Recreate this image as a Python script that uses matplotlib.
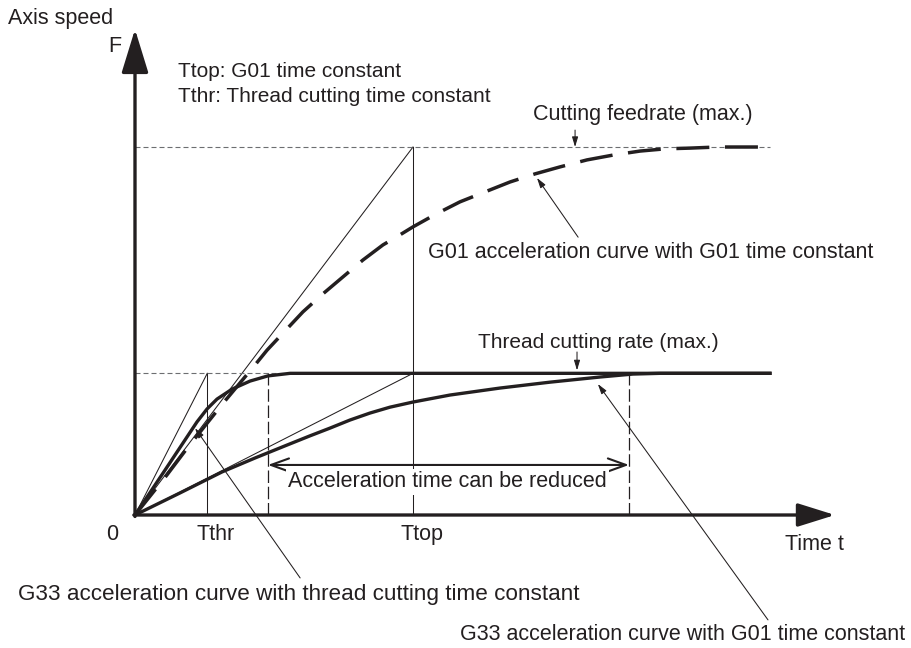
import matplotlib
matplotlib.use('Agg')
import matplotlib.pyplot as plt

plt.rcParams['font.family'] = ['Liberation Sans', 'DejaVu Sans']

INK = '#231f20'

# time / speed normalised so that Ttop = 1 and F (max cutting feedrate) = 1
T_THR = 0.26
T_TOP = 1.0
F_MAX = 1.0
R_MAX = 0.385            # thread cutting rate (max.)
T_ACC_THR = 0.478        # end of G33 accel with thread cutting time constant
T_ACC_G01 = 1.777        # end of G33 accel with G01 time constant
T_END = 2.284
T_AXIS = 2.518
V_AXIS = 1.32

# G01 acceleration curve with G01 time constant (dashed)
g01_t = [0, 0.115, 0.191, 0.317, 0.432, 0.475, 0.604, 0.676, 0.748, 0.820,
         0.892, 0.946, 1.0, 1.083, 1.169, 1.259, 1.349, 1.439, 1.529, 1.626,
         1.719, 1.817, 1.906, 1.996, 2.094, 2.284]
g01_v = [0, 0.109, 0.185, 0.304, 0.408, 0.448, 0.552, 0.601, 0.647, 0.693,
         0.734, 0.758, 0.783, 0.818, 0.851, 0.878, 0.905, 0.927, 0.946, 0.965,
         0.978, 0.989, 0.995, 0.997, 1.0, 1.0]

# G33 acceleration curve with thread cutting time constant
g33thr_t = [0, 0.108, 0.180, 0.223, 0.259, 0.295, 0.349, 0.414, 0.478, 0.558,
            2.284]
g33thr_v = [0, 0.122, 0.204, 0.253, 0.288, 0.315, 0.342, 0.364, 0.378, 0.385,
            0.385]

# G33 acceleration curve with G01 time constant
g33top_t = [0, 0.162, 0.313, 0.432, 0.540, 0.629, 0.701, 0.773, 0.845, 0.917,
            1.0, 1.133, 1.313, 1.493, 1.673, 1.791, 1.888, 2.284]
g33top_v = [0, 0.060, 0.117, 0.155, 0.188, 0.215, 0.236, 0.258, 0.277, 0.293,
            0.307, 0.326, 0.345, 0.361, 0.375, 0.383, 0.385, 0.385]

fig = plt.figure(figsize=(9.11, 6.48), dpi=100)
ax = fig.add_axes([0, 0, 1, 1])
ax.set_xlim(-0.4856, 2.7914)
ax.set_ylim(-0.3614, 1.3995)
ax.axis('off')

thin = dict(color=INK, lw=0.75, zorder=2)
# construction lines
ax.plot([0, T_TOP], [0, F_MAX], **thin)
ax.plot([T_TOP, T_TOP], [0, F_MAX], **thin)
ax.plot([0, T_THR], [0, R_MAX], **thin)
ax.plot([T_THR, T_THR], [0, R_MAX], **thin)
ax.plot([0, T_TOP], [0, R_MAX], **thin)

# max levels
ax.plot([0, T_END], [F_MAX, F_MAX], color='#6d6e71', lw=0.8,
        ls=(0, (4.5, 2.7)), zorder=2)
ax.plot([0, 0.56], [R_MAX, R_MAX], color='#6d6e71', lw=0.8,
        ls=(0, (4.5, 2.7)), zorder=2)

# end of acceleration markers
for t in (T_ACC_THR, T_ACC_G01):
    ax.plot([t, t], [0, R_MAX], color=INK, lw=0.9, ls=(0, (10, 3)), zorder=2)

# curves
ax.plot(g01_t, g01_v, color=INK, lw=2.5, ls=(0, (9.5, 4.5)),
        solid_capstyle='butt', zorder=3)
ax.plot(g33thr_t, g33thr_v, color=INK, lw=2.4, zorder=3,
        solid_joinstyle='round')
ax.plot(g33top_t, g33top_v, color=INK, lw=2.4, zorder=3,
        solid_joinstyle='round')

# axes with arrow heads
ax.annotate('', xy=(0, V_AXIS), xytext=(0, -0.004),
            arrowprops=dict(arrowstyle='-|>,head_length=27,head_width=8.3',
                            mutation_scale=1, lw=2.4, color=INK,
                            shrinkA=0, shrinkB=0), zorder=4)
ax.annotate('', xy=(T_AXIS, 0), xytext=(-0.004, 0),
            arrowprops=dict(arrowstyle='-|>,head_length=23,head_width=7.2',
                            mutation_scale=1, lw=2.4, color=INK,
                            shrinkA=0, shrinkB=0), zorder=4)

# reducible acceleration time
ax.annotate('', xy=(T_ACC_THR, 0.136), xytext=(T_ACC_G01, 0.136),
            arrowprops=dict(arrowstyle='<->,head_length=13,head_width=4.7',
                            mutation_scale=1, lw=1.5, color=INK,
                            shrinkA=0, shrinkB=0), zorder=4)

fs = 15.5
txt = dict(color=INK, zorder=6)
ax.text(-0.457, 1.3505, 'Axis speed', ha='left', va='center', fontsize=fs, **txt)
ax.text(-0.072, 1.272, 'F', ha='center', va='center', fontsize=fs, **txt)
ax.text(0.155, 1.2065, 'Ttop: G01 time constant', ha='left', va='center',
        fontsize=15, **txt)
ax.text(0.155, 1.1386, 'Tthr: Thread cutting time constant', ha='left',
        va='center', fontsize=15, **txt)
ax.text(1.432, 1.087, 'Cutting feedrate (max.)', ha='left', va='center',
        fontsize=fs, **txt)
ax.text(1.054, 0.7147, 'G01 acceleration curve with G01 time constant',
        ha='left', va='center', fontsize=fs, **txt)
ax.text(1.234, 0.470, 'Thread cutting rate (max.)', ha='left', va='center',
        fontsize=15, **txt)
ax.text(0.550, 0.0897, 'Acceleration time can be reduced', ha='left',
        va='center', bbox=dict(facecolor='white', edgecolor='none', pad=1.5),
        fontsize=fs, **txt)
ax.text(-0.083, -0.054, '0', ha='center', va='center', fontsize=fs, **txt)
ax.text(T_THR + 0.03, -0.054, 'Tthr', ha='center', va='center', fontsize=fs, **txt)
ax.text(T_TOP + 0.032, -0.054, 'Ttop', ha='center', va='center', fontsize=fs, **txt)
ax.text(2.338, -0.079, 'Time t', ha='left', va='center', fontsize=fs, **txt)
ax.text(-0.421, -0.217, 'G33 acceleration curve with thread cutting time constant',
        ha='left', va='center', fontsize=16.2, **txt)
ax.text(1.169, -0.326, 'G33 acceleration curve with G01 time constant',
        ha='left', va='center', fontsize=fs, **txt)

# leader arrows
lead = dict(arrowstyle='-|>,head_length=6,head_width=1.8', mutation_scale=1,
            lw=0.75, color=INK, shrinkA=0, shrinkB=0)
ax.annotate('', xy=(1.583, F_MAX), xytext=(1.583, 1.046), arrowprops=lead, zorder=5)
ax.annotate('', xy=(1.446, 0.916), xytext=(1.594, 0.755), arrowprops=lead, zorder=5)
ax.annotate('', xy=(1.590, R_MAX + 0.008), xytext=(1.590, 0.443),
            arrowprops=lead, zorder=5)
ax.annotate('', xy=(0.216, 0.236), xytext=(0.594, -0.171), arrowprops=lead, zorder=5)
ax.annotate('', xy=(1.665, 0.356), xytext=(2.277, -0.285), arrowprops=lead, zorder=5)

fig.savefig('out.png', dpi=100)
